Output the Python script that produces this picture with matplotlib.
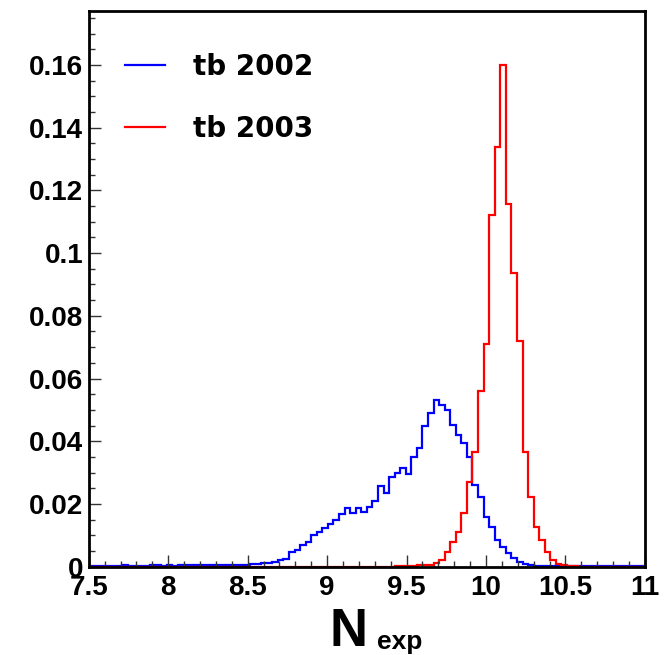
import numpy as np
import matplotlib.pyplot as plt
import matplotlib.ticker as mtick

# 100 bins between 7.5 and 11
edges = np.linspace(7.5, 11.0, 101)

tb2002 = [0.0003, 0.0002, 0.0003, 0.0002, 0.0002, 0.0003, 0.0004, 0.0002, 0.0003, 0.0003,
          0.0002, 0.0004, 0.0005, 0.0003, 0.0004, 0.0003, 0.0005, 0.0004, 0.0004, 0.0006,
          0.0005, 0.0004, 0.0006, 0.0005, 0.0006, 0.0005, 0.0007, 0.0006, 0.0007, 0.0008,
          0.0009, 0.0011, 0.0012, 0.0016, 0.0021, 0.0025, 0.0048, 0.0052, 0.0069, 0.0080,
          0.0101, 0.0112, 0.0125, 0.0135, 0.0150, 0.0168, 0.0186, 0.0172, 0.0186, 0.0174,
          0.0190, 0.0210, 0.0256, 0.0236, 0.0286, 0.0300, 0.0314, 0.0296, 0.0350, 0.0380,
          0.0450, 0.0490, 0.0532, 0.0516, 0.0500, 0.0452, 0.0420, 0.0394, 0.0351, 0.0260,
          0.0223, 0.0159, 0.0128, 0.0085, 0.0064, 0.0043, 0.0027, 0.0016, 0.0008, 0.0005,
          0.0003, 0.0003, 0.0003, 0.0002, 0.0003, 0.0002, 0.0002, 0.0002, 0.0001, 0.0002,
          0.0001, 0.0001, 0.0002, 0.0001, 0.0001, 0.0001, 0.0001, 0.0001, 0.0001, 0.0001]

tb2003 = [0, 0, 0, 0, 0, 0, 0, 0, 0, 0,
          0, 0, 0, 0, 0, 0, 0, 0, 0, 0,
          0, 0, 0, 0, 0, 0, 0, 0, 0, 0,
          0, 0, 0, 0, 0, 0, 0, 0, 0, 0,
          0, 0, 0, 0, 0, 0, 0, 0, 0, 0,
          0, 0, 0, 0, 0, 0.0001, 0.0002, 0.0002, 0.0003, 0.0004,
          0.0005, 0.0007, 0.0011, 0.0021, 0.0048, 0.0080, 0.0112, 0.0170, 0.0270, 0.0367,
          0.0560, 0.0710, 0.1120, 0.1337, 0.1600, 0.1156, 0.0936, 0.0720, 0.0367, 0.0223,
          0.0128, 0.0085, 0.0048, 0.0021, 0.0010, 0.0005, 0.0002, 0.0001, 0, 0,
          0, 0, 0, 0, 0, 0, 0, 0, 0, 0]

labels = ['tb 2002', 'tb 2003']

plt.rcParams['font.family'] = ['Liberation Sans', 'DejaVu Sans']
plt.rcParams['font.weight'] = 'bold'

fig = plt.figure(figsize=(6.68, 6.55), dpi=100)
ax = fig.add_axes([0.133, 0.1348, 0.8323, 0.8489])

ax.stairs(tb2002, edges, color='#0000ff', lw=1.6, label=labels[0])
ax.stairs(tb2003, edges, color='#ff0000', lw=1.6, label=labels[1])

ax.set_xlim(7.5, 11.0)
ax.set_ylim(0, 0.1773)

ax.xaxis.set_major_locator(mtick.MultipleLocator(0.5))
ax.xaxis.set_minor_locator(mtick.MultipleLocator(0.1))
ax.yaxis.set_major_locator(mtick.MultipleLocator(0.02))
ax.yaxis.set_minor_locator(mtick.MultipleLocator(0.005))
ax.xaxis.set_major_formatter(mtick.FormatStrFormatter('%g'))
ax.yaxis.set_major_formatter(mtick.FuncFormatter(lambda v, p: '%g' % round(v, 3)))

ax.tick_params(which='both', direction='in', top=False, right=False,
               color='#333333', width=1, labelsize=20)
ax.tick_params(which='major', length=8.6)
ax.tick_params(which='minor', length=4.3)
ax.tick_params(axis='y', pad=4)
ax.tick_params(axis='x', pad=6)
for s in ax.spines.values():
    s.set_linewidth(2)

# axis title N_exp, ROOT style (big N, small subscript)
fig.text(0.493, 0.014, 'N', fontsize=38, fontweight='bold', ha='left', va='baseline')
fig.text(0.564, 0.009, 'exp', fontsize=19, fontweight='bold', ha='left', va='baseline')

ax.legend(loc='upper left', bbox_to_anchor=(0.0647, 0.924), frameon=False,
          handlelength=1.44, handletextpad=1.0, labelspacing=1.21,
          borderpad=0, borderaxespad=0,
          prop={'family': 'DejaVu Sans', 'weight': 'bold', 'size': 20})

plt.savefig('out.png', dpi=100)
